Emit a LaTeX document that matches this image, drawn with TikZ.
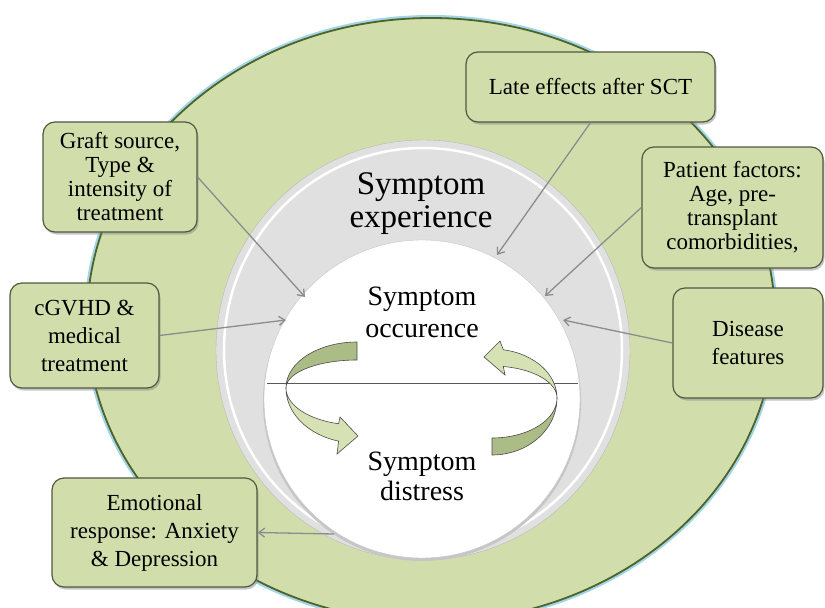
\documentclass[tikz,border=0pt]{standalone}
\usepackage{fontspec}
\setmainfont{Liberation Serif}
\newfontfamily\diagramfont{Liberation Serif}
\usepackage{tikz}
\usetikzlibrary{arrows.meta, positioning, shadows}
\definecolor{ringgreen}{RGB}{209, 222, 172}
\definecolor{ringedge}{RGB}{79, 98, 40}
\definecolor{ringglow}{RGB}{160, 214, 232}
\definecolor{boxedge}{RGB}{80, 88, 64}
\definecolor{linkgray}{RGB}{140, 140, 140}
\definecolor{coregray}{RGB}{224, 224, 224}
\definecolor{ribbondark}{RGB}{172, 188, 134}
\definecolor{ribbonlight}{RGB}{214, 226, 180}

\begin{document}
\begin{tikzpicture}[x=1pt, y=-1pt, >={Straight Barb[length=6pt, width=9pt]},
    factor/.style={draw=boxedge, line width=1.2pt, fill=ringgreen, rounded corners=12pt, align=center, inner sep=0pt,
        font=\diagramfont\fontsize{23}{24}\selectfont, drop shadow={shadow xshift=1.5pt, shadow yshift=-2.5pt, opacity=0.45}},
    wide/.style={font=\diagramfont\fontsize{23}{28}\selectfont},
    link/.style={->, linkgray, line width=1.3pt},
    ribbon/.style={draw=black!70, line width=0.6pt}]
    \useasboundingbox (0,0) rectangle (825,608);

    \fill[ringglow] (431,320) ellipse [x radius=347, y radius=305];
    \filldraw[fill=ringgreen, draw=ringedge, line width=1.8pt] (431,320) ellipse [x radius=344, y radius=302];
    \filldraw[fill=coregray, draw=gray!55] (423,350) ellipse [x radius=207, y radius=210];
    \draw[white, line width=2.5pt] (423,350) ellipse [x radius=199, y radius=202];
    \fill[gray!45] (422,402) ellipse [x radius=159, y radius=159];
    \filldraw[fill=white, draw=gray!45] (422,399) ellipse [x radius=158, y radius=159];
    \draw[gray!70!black, line width=0.8pt] (267,383) -- (578,383);

    \filldraw[ribbon, fill=ribbondark] plot[domain=270:180, samples=30] ({357+71*cos(\x)}, {388+46*sin(\x)})
        -- plot[domain=180:270, samples=30] ({357+71*cos(\x)}, {388+28*sin(\x)}) -- cycle;
    \filldraw[ribbon, fill=ribbonlight] plot[domain=180:105, samples=30] ({357+71*cos(\x)}, {388+37*sin(\x)})
        -- (340,417) -- (358,436) -- (337,454)
        -- plot[domain=105:180, samples=30] ({357+71*cos(\x)}, {388+55*sin(\x)}) -- cycle;
    \filldraw[ribbon, fill=ribbondark] plot[domain=90:0, samples=30] ({492+65*cos(\x)}, {398+57*sin(\x)})
        -- plot[domain=0:90, samples=30] ({492+65*cos(\x)}, {398+40*sin(\x)}) -- cycle;
    \filldraw[ribbon, fill=ribbonlight] plot[domain=0:-80, samples=30] ({492+65*cos(\x)}, {398+32*sin(\x)})
        -- (505,375) -- (484,357) -- (500,341)
        -- plot[domain=-80:0, samples=30] ({492+65*cos(\x)}, {398+49*sin(\x)}) -- cycle;

    \node[font=\diagramfont\fontsize{33}{33}\selectfont, align=center] (experience) at (421,204) {Symptom\\experience};
    \node[font=\diagramfont\fontsize{28}{32}\selectfont, align=center] (occurence) at (422,312) {Symptom\\occurence};
    \node[font=\diagramfont\fontsize{28}{30}\selectfont, align=center] (distress) at (422,476) {Symptom\\distress};

    \node[factor, minimum width=249pt, minimum height=70pt] (late) at (590.5,87) {Late effects after SCT};
    \node[factor, minimum width=154pt, minimum height=110pt] (graft) at (120,177) {Graft source,\\Type \&\\intensity of\\treatment};
    \node[factor, minimum width=181pt, minimum height=121pt] (patient) at (732.5,207.5) {Patient factors:\\Age, pre-\\transplant\\comorbidities,};
    \node[factor, wide, minimum width=149pt, minimum height=105pt] (cgvhd) at (84.5,335.5) {cGVHD \&\\medical\\treatment};
    \node[factor, wide, minimum width=150pt, minimum height=110pt] (disease) at (748,343) {Disease\\features};
    \node[factor, wide, minimum width=205pt, minimum height=109pt] (emotion) at (154.5,532.5) {Emotional\\response: Anxiety\\\& Depression};

    \coordinate (latetip) at (497,255);
    \coordinate (grafttip) at (305,297);
    \coordinate (patienttip) at (545,296);
    \coordinate (cgvhdtip) at (286,320);
    \coordinate (diseasetip) at (563,320);
    \coordinate (emotionstart) at (334,534);

    \draw[link] (late.south) -- (latetip);
    \draw[link] (graft.east) -- (grafttip);
    \draw[link] (patient.west) -- (patienttip);
    \draw[link] (cgvhd.east) -- (cgvhdtip);
    \draw[link] (disease.west) -- (diseasetip);
    \draw[link] (emotionstart) -- (emotion.east);
\end{tikzpicture}
\end{document}
